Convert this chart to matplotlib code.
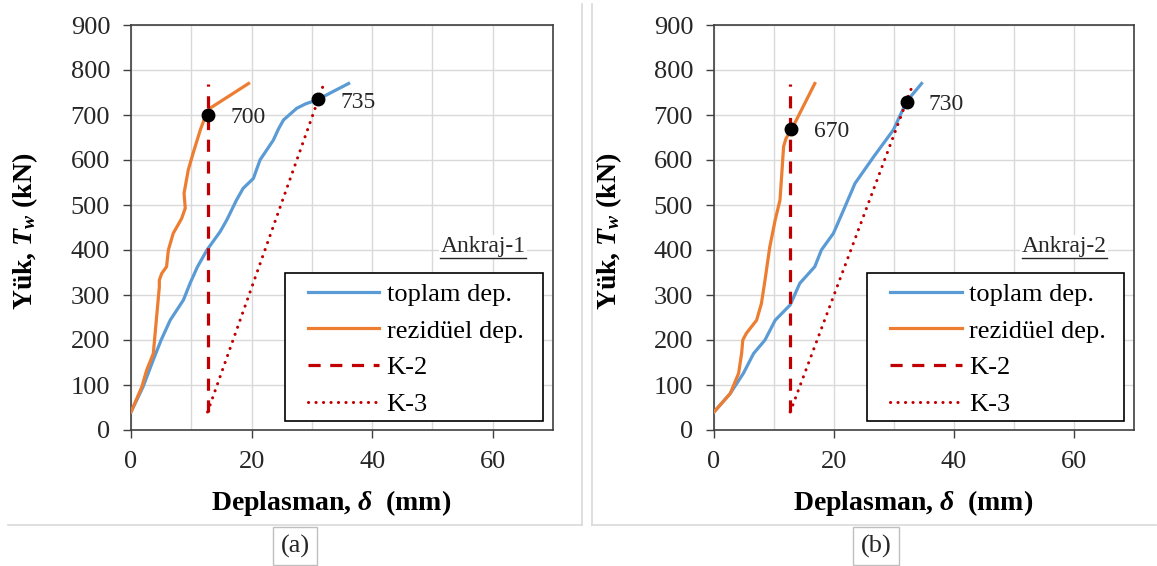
import numpy as np
import matplotlib
matplotlib.use('Agg')
import matplotlib.pyplot as plt
from matplotlib.lines import Line2D
from matplotlib.patches import Rectangle

plt.rcParams['font.family'] = ['Liberation Serif', 'DejaVu Serif']
plt.rcParams['mathtext.fontset'] = 'custom'
plt.rcParams['mathtext.rm'] = 'Liberation Serif'
plt.rcParams['mathtext.it'] = 'Liberation Serif:italic'
plt.rcParams['mathtext.bf'] = 'Liberation Serif:bold'
plt.rcParams['mathtext.bfit'] = 'Liberation Serif:italic:bold'

# --- veri (Ankraj-1) ---
a1_top_x = [0, 2.0, 3.7, 5.0, 6.5, 8.7, 9.8, 11.0, 12.6, 14.8, 15.9, 17.5, 18.6, 20.3,
            21.4, 22.5, 23.6, 24.5, 25.3, 27.5, 29.0, 30.8, 33.5, 36.1]
a1_top_y = [40, 96, 156, 200, 244, 289, 326, 362, 400, 441, 467, 511, 537, 559,
            600, 622, 644, 670, 689, 715, 725, 733, 752, 770]
a1_rez_x = [0, 1.8, 2.6, 3.7, 4.3, 4.7, 4.7, 5.1, 5.9, 6.2, 7.0, 8.4, 9.0, 8.8,
            9.5, 10.3, 11.5, 12.3, 13.1, 19.5]
a1_rez_y = [40, 96, 133, 170, 259, 318, 333, 348, 363, 400, 437, 470, 493, 526,
            578, 615, 667, 696, 715, 770]
a1_k2_x = [12.7, 12.7]
a1_k2_y = [40, 770]
a1_k3_x = [12.7, 32.0]
a1_k3_y = [40, 770]
a1_pts_x = [12.8, 31.1]
a1_pts_y = [700, 735]

# --- veri (Ankraj-2) ---
a2_top_x = [0, 2.7, 4.9, 6.6, 8.5, 10.2, 12.7, 14.3, 16.8, 17.9, 19.9, 21.6, 23.5,
            26.6, 29.9, 32.1, 34.6]
a2_top_y = [40, 81, 126, 170, 200, 244, 278, 326, 363, 400, 437, 489, 548,
            607, 667, 730, 770]
a2_rez_x = [0, 2.7, 4.1, 4.6, 4.8, 5.4, 7.1, 7.9, 8.5, 9.3, 10.2, 11.0, 11.3,
            11.6, 12.0, 12.9, 16.8]
a2_rez_y = [40, 81, 126, 170, 200, 215, 244, 281, 333, 407, 467, 511, 570,
            630, 648, 667, 770]
a2_k2_x = [12.7, 12.7]
a2_k2_y = [40, 770]
a2_k3_x = [12.7, 33.2]
a2_k3_y = [40, 770]
a2_pts_x = [12.9, 32.1]
a2_pts_y = [670, 730]

labels = ['toplam dep.', 'rezidüel dep.', 'K-2', 'K-3']
x_ticks = [0, 20, 40, 60]
y_ticks = list(range(0, 1000, 100))

FS = 19
W, H = 1157, 566
fig = plt.figure(figsize=(W / 100, H / 100), dpi=100)

def panel(rect, top, rez, k2, k3, pts, name):
    ax = fig.add_axes(rect)
    ax.plot(top[0], top[1], color='#5B9BD5', lw=2.3, label=labels[0], zorder=3)
    ax.plot(rez[0], rez[1], color='#ED7D31', lw=2.3, label=labels[1], zorder=3)
    ax.plot(k2[0], k2[1], color='#C00000', lw=2.3, ls=(0, (3.8, 3)), label=labels[2], zorder=3)
    ax.plot(k3[0], k3[1], color='#C00000', lw=2.2, ls=(0, (0.05, 2.4)),
            dash_capstyle='round', label=labels[3], zorder=3)
    ax.plot(pts[0], pts[1], 'o', color='black', ms=9, zorder=5)
    for px, py in zip(pts[0], pts[1]):
        ax.annotate(str(py), (px, py), xytext=(16, -2), textcoords='offset points',
                    fontsize=17, va='center', ha='left', color='#262626')
    ax.set_xlim(0, 70)
    ax.set_ylim(0, 900)
    ax.set_xticks(x_ticks)
    ax.set_yticks(y_ticks)
    ax.xaxis.set_minor_locator(matplotlib.ticker.FixedLocator([10, 30, 50, 70]))
    ax.grid(True, which='both', color='#D9D9D9', lw=1.0, zorder=0)
    ax.tick_params(which='major', direction='out', length=6, width=1.0,
                   color='#404040', labelsize=FS, labelcolor='#262626')
    ax.tick_params(axis='y', pad=9)
    ax.tick_params(axis='x', pad=9)
    ax.tick_params(which='minor', length=0)
    for s in ax.spines.values():
        s.set_color('#404040')
        s.set_linewidth(1.2)
    ax.set_axisbelow(True)
    ax.set_xlabel(r'Deplasman, $\mathbfit{\delta}$  (mm)', fontsize=20, fontweight='bold')
    ax.xaxis.set_label_coords(0.474, -0.142)
    ax.set_ylabel(r'Yük, $\mathbfit{T}_{\mathbfit{w}}$ (kN)', fontsize=20, fontweight='bold')
    ax.yaxis.set_label_coords(-0.215, 0.49)
    # legend kutusu
    ax.add_patch(Rectangle((0.365, 0.022), 0.611, 0.366, transform=ax.transAxes,
                           fc='white', ec='black', lw=1.2, zorder=6))
    leg = ax.legend(loc='upper left', bbox_to_anchor=(0.42, 0.364), fontsize=FS,
                    frameon=False, handlelength=2.7, labelspacing=0.5, borderpad=0,
                    handletextpad=0.27, borderaxespad=0)
    leg.set_zorder(7)
    t = ax.text(0.935, 0.452, name, transform=ax.transAxes, fontsize=17,
                ha='right', va='center', color='#262626',
                bbox=dict(fc='white', ec='none', pad=1))
    return ax, t

ax1, t1 = panel([131 / W, 1 - 430 / H, 422 / W, 405 / H],
                (a1_top_x, a1_top_y), (a1_rez_x, a1_rez_y),
                (a1_k2_x, a1_k2_y), (a1_k3_x, a1_k3_y), (a1_pts_x, a1_pts_y), 'Ankraj-1')
ax2, t2 = panel([714 / W, 1 - 430 / H, 420 / W, 405 / H],
                (a2_top_x, a2_top_y), (a2_rez_x, a2_rez_y),
                (a2_k2_x, a2_k2_y), (a2_k3_x, a2_k3_y), (a2_pts_x, a2_pts_y), 'Ankraj-2')

# Ankraj etiketlerinin alt cizgisi
fig.canvas.draw()
for t in (t1, t2):
    bb = t.get_window_extent()
    yl = (bb.y0 - 1) / H
    fig.add_artist(Line2D([bb.x0 / W, bb.x1 / W], [yl, yl], color='#262626', lw=1.0))

# cerceveler
fc = '#D9D9D9'
fig.add_artist(Line2D([8 / W, 582 / W], [1 - 525 / H, 1 - 525 / H], color=fc, lw=1.2))
fig.add_artist(Line2D([582 / W, 582 / W], [1 - 525 / H, 1 - 4 / H], color=fc, lw=1.2))
fig.add_artist(Line2D([592 / W, 592 / W], [1 - 525 / H, 1 - 4 / H], color=fc, lw=1.2))
fig.add_artist(Line2D([592 / W, 1 - 1 / W], [1 - 525 / H, 1 - 525 / H], color=fc, lw=1.2))

# (a), (b)
for cx, lab in ((295, '(a)'), (876, '(b)')):
    fig.text(cx / W, 1 - 546 / H, lab, fontsize=19, ha='center', va='center',
             color='#262626',
             bbox=dict(boxstyle='square,pad=0.3', fc='white', ec='#BFBFBF', lw=1))

fig.savefig('out.png', dpi=100)
